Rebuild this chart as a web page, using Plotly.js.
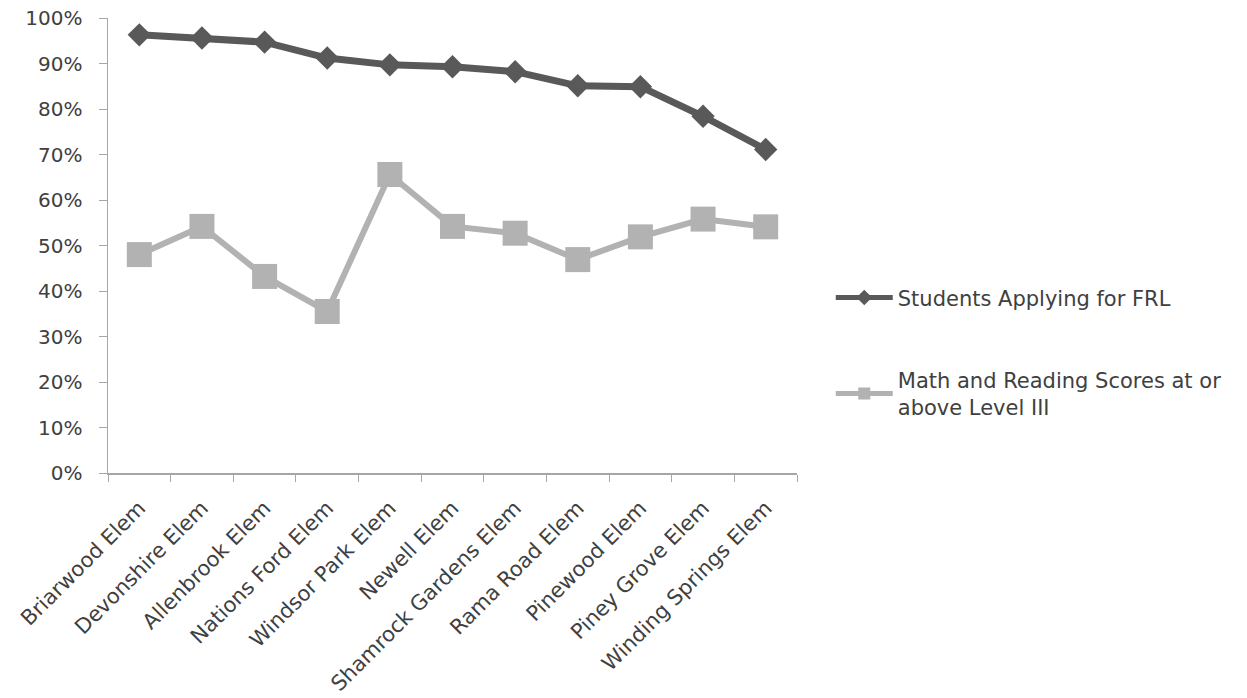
<!DOCTYPE html>
<html>
<head>
<meta charset="utf-8">
<script src="https://cdn.plot.ly/plotly-3.0.1.min.js"></script>
<style>html,body{margin:0;padding:0;background:#fff;}</style>
</head>
<body>
<div id="chart" style="width:1247px;height:698px;"></div>
<script>
const schools = ["Briarwood Elem","Devonshire Elem","Allenbrook Elem","Nations Ford Elem","Windsor Park Elem","Newell Elem","Shamrock Gardens Elem","Rama Road Elem","Pinewood Elem","Piney Grove Elem","Winding Springs Elem"];
const frlValues = [0.963,0.956,0.947,0.912,0.897,0.893,0.882,0.851,0.849,0.784,0.711];
const scoreValues = [0.480,0.542,0.432,0.355,0.656,0.542,0.527,0.469,0.519,0.558,0.541];
const seriesNames = ["Students Applying for FRL","Math and Reading Scores at or<br>above Level III"];

const font = "'DejaVu Sans', sans-serif";
const data = [
  {x: schools, y: frlValues, name: seriesNames[0], type: 'scatter', mode: 'lines+markers',
   legendgroup: 'a',
   line: {color: '#595959', width: 7},
   marker: {symbol: 'diamond', size: 18, color: '#595959'}},
  {x: schools, y: scoreValues, name: seriesNames[1], type: 'scatter', mode: 'lines+markers',
   legendgroup: 'b',
   line: {color: '#b2b2b2', width: 6},
   marker: {symbol: 'square', size: 25, color: '#b2b2b2'}}
];
const layout = {
  width: 1247, height: 698,
  margin: {l: 108, r: 450, t: 18, b: 225},
  paper_bgcolor: '#ffffff', plot_bgcolor: '#ffffff',
  font: {family: font, size: 20, color: '#404040'},
  showlegend: true,
  legend: {x: 1.049, xanchor: 'left', y: 0.43, yanchor: 'top',
           font: {family: font, size: 21, color: '#404040'},
           tracegroupgap: 52, itemwidth: 57, itemsizing: 'constant', bgcolor: 'rgba(0,0,0,0)'},
  xaxis: {type: 'category', range: [-0.5, 10.5], tickson: 'boundaries', automargin: false,
          showgrid: false, zeroline: false, showline: true, linecolor: '#a6a6a6', linewidth: 1.5,
          ticks: 'outside', ticklen: 7, tickcolor: '#a6a6a6', tickangle: -45,
          ticklabelstandoff: 13,
          tickfont: {family: font, size: 21, color: '#404040'}},
  yaxis: {range: [0, 1], dtick: 0.1, tickformat: '.0%', automargin: false,
          showgrid: false, zeroline: false, showline: true, linecolor: '#a6a6a6', linewidth: 1.5,
          ticks: 'outside', ticklen: 8, tickcolor: '#a6a6a6', ticklabelstandoff: 12,
          tickfont: {family: font, size: 20, color: '#404040'}}
};
Plotly.newPlot('chart', data, layout, {displayModeBar: false, staticPlot: true});
</script>
</body>
</html>
